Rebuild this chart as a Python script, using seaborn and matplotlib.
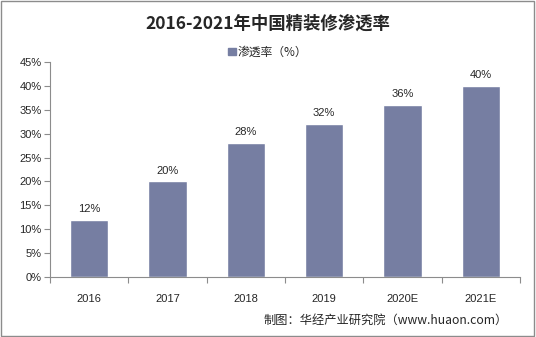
import matplotlib
matplotlib.use("Agg")
import matplotlib.pyplot as plt
import seaborn as sns
import pandas as pd
from matplotlib.patches import Rectangle, Patch

years = ["2016", "2017", "2018", "2019", "2020E", "2021E"]
rates = [12, 20, 28, 32, 36, 40]
yticks = [0, 5, 10, 15, 20, 25, 30, 35, 40, 45]

sns.set_theme(style="white")
plt.rcParams['font.family'] = ['Noto Sans CJK SC', 'DejaVu Sans']

df = pd.DataFrame({"year": years, "rate": rates})
color = "#767EA2"

fig = plt.figure(figsize=(5.36, 3.37), dpi=100)
ax = fig.add_axes([50/536, 1-277/337, 470/536, 215/337])
sns.barplot(data=df, x="year", y="rate", color=color, width=0.49, ax=ax, saturation=1)

ax.set_ylim(0, 45)
ax.set_yticks(yticks)
ax.set_yticklabels([f"{v}%" for v in yticks], fontsize=8, family=['Liberation Sans'])
ax.set_xlim(-0.5, len(years)-0.5)
ax.set_xticks(range(len(years)))
ax.set_xticklabels(years, fontsize=8, family=['Liberation Sans'])
ax.set_xlabel("")
ax.set_ylabel("")
for s in ["top", "right"]:
    ax.spines[s].set_visible(False)
for s in ["left", "bottom"]:
    ax.spines[s].set_color("#8c8c8c")
    ax.spines[s].set_linewidth(0.8)
ax.tick_params(axis="y", which="both", left=True, length=4, color="#8c8c8c", width=0.8, pad=2)
ax.tick_params(axis="x", bottom=False, pad=6)
# minor ticks between categories
ax.set_xticks([i + 0.5 for i in range(-1, len(years))], minor=True)
ax.tick_params(axis="x", which="minor", bottom=True, length=4, color="#8c8c8c", width=0.8)

for i, v in enumerate(rates):
    ax.text(i, v + 1.2, f"{v}%", ha="center", va="bottom", fontsize=8, family=['Liberation Sans'])

fig.text(0.5, 1-24/337, "2016-2021年中国精装修渗透率", ha="center", va="center",
         fontsize=12.5, fontweight="bold")
ax.legend(handles=[Patch(color=color, label="渗透率（%）")], loc="center",
          bbox_to_anchor=(0.5, 1-52/337), bbox_transform=fig.transFigure,
          frameon=False, fontsize=8.5, handlelength=0.6, handleheight=0.6, handletextpad=0.2)
fig.text(508/536, 1-320/337, "制图：华经产业研究院（www.huaon.com）", ha="right", va="center", fontsize=8.8)

fig.patches.append(Rectangle((0.002, 0.003), 0.995, 0.994, transform=fig.transFigure,
                             fill=False, edgecolor="#8c8c8c", linewidth=1))
fig.savefig("out.png", dpi=100)
